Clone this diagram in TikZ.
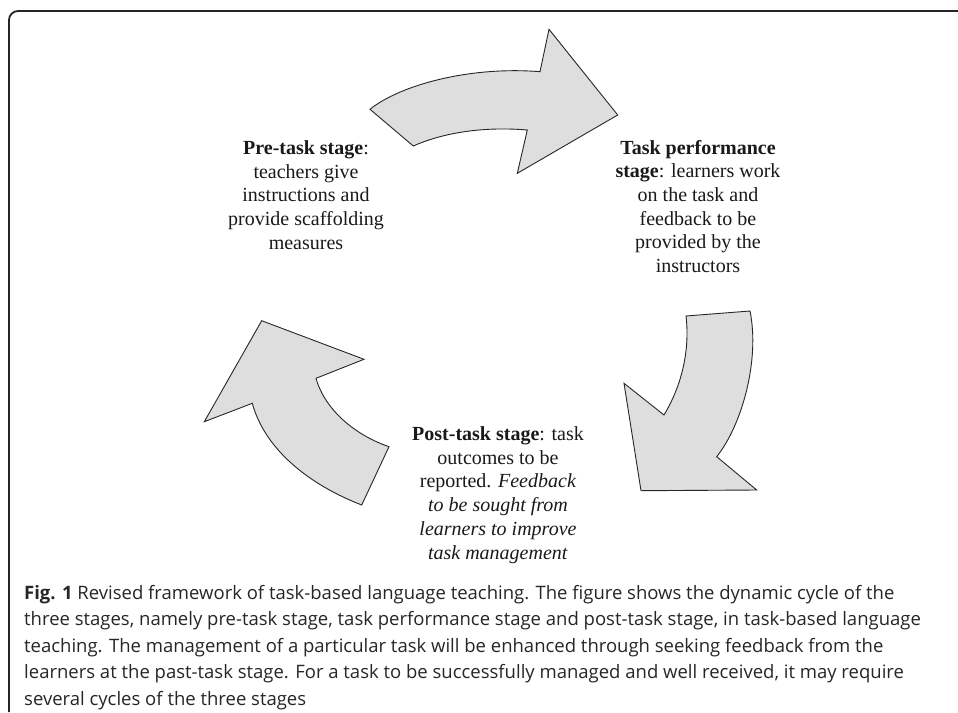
\documentclass[tikz,border=0pt]{standalone}
\usepackage{fontspec}
\setmainfont{Liberation Serif}
\newfontfamily\capfont{Open Sans}
\usetikzlibrary{positioning}

\begin{document}
\begin{tikzpicture}[x=1pt, y=-1pt,
    stagearrow/.style={draw=black!85, line width=0.9pt, fill=black!13, line join=miter},
    stagetext/.style={align=center, inner sep=0pt, text=black!90, font=\fontsize{20}{23.7}\selectfont}]
    \useasboundingbox (0,0) rectangle (958,712);
    % Frame
    \draw[line width=1.8pt, black!85, rounded corners=9pt] (958,11) -- (9,11) -- (9,712);
    % Arrow pre-task -> performance
    \draw[stagearrow] (370,109.3) .. controls (400,85) and (470,66) .. (540,71.7)
        -- (549,29.3) -- (617.7,115) -- (517.3,173.3) -- (527.3,130)
        .. controls (480,126) and (440,134) .. (413.3,146) -- cycle;
    % Arrow performance -> post-task
    \draw[stagearrow] (750,311) -- (686,316) .. controls (690,350) and (682,385) .. (664,415)
        -- (624,383.3) -- (641,490.7) -- (756.7,490) -- (716.7,456.7)
        .. controls (742,425) and (760,360) .. cycle;
    % Arrow post-task -> pre-task
    \draw[stagearrow] (261.7,320.7) -- (364,359.3) -- (316,378.3)
        .. controls (325,410) and (355,435) .. (389,446.7) -- (361.7,505)
        .. controls (310,485) and (265,450) .. (252.3,403.3) -- (204.3,421.7) -- cycle;
    % Stages
    \node[stagetext] (pre) at (306,195) {\textbf{Pre-task stage}:\\teachers give\\instructions and\\provide scaffolding\\measures};
    \node[stagetext] (perf) at (698,206.5) {\textbf{Task performance}\\\textbf{stage}: learners work\\on the task and\\feedback to be\\provided by the\\instructors};
    \node[stagetext] (post) at (498,495) {\textbf{Post-task stage}: task\\outcomes to be\\reported. \textit{Feedback}\\\textit{to be sought from}\\\textit{learners to improve}\\\textit{task management}};
    % Caption
    \node[anchor=north west, align=left, inner sep=0pt, text=black!85, font=\capfont\fontsize{18.5}{26.5}\selectfont] (caption) at (24,585)
        {\textbf{Fig. 1} Revised framework of task-based language teaching. The figure shows the dynamic cycle of the\\
        three stages, namely pre-task stage, task performance stage and post-task stage, in task-based language\\
        teaching. The management of a particular task will be enhanced through seeking feedback from the\\
        learners at the past-task stage. For a task to be successfully managed and well received, it may require\\
        several cycles of the three stages};
\end{tikzpicture}
\end{document}
